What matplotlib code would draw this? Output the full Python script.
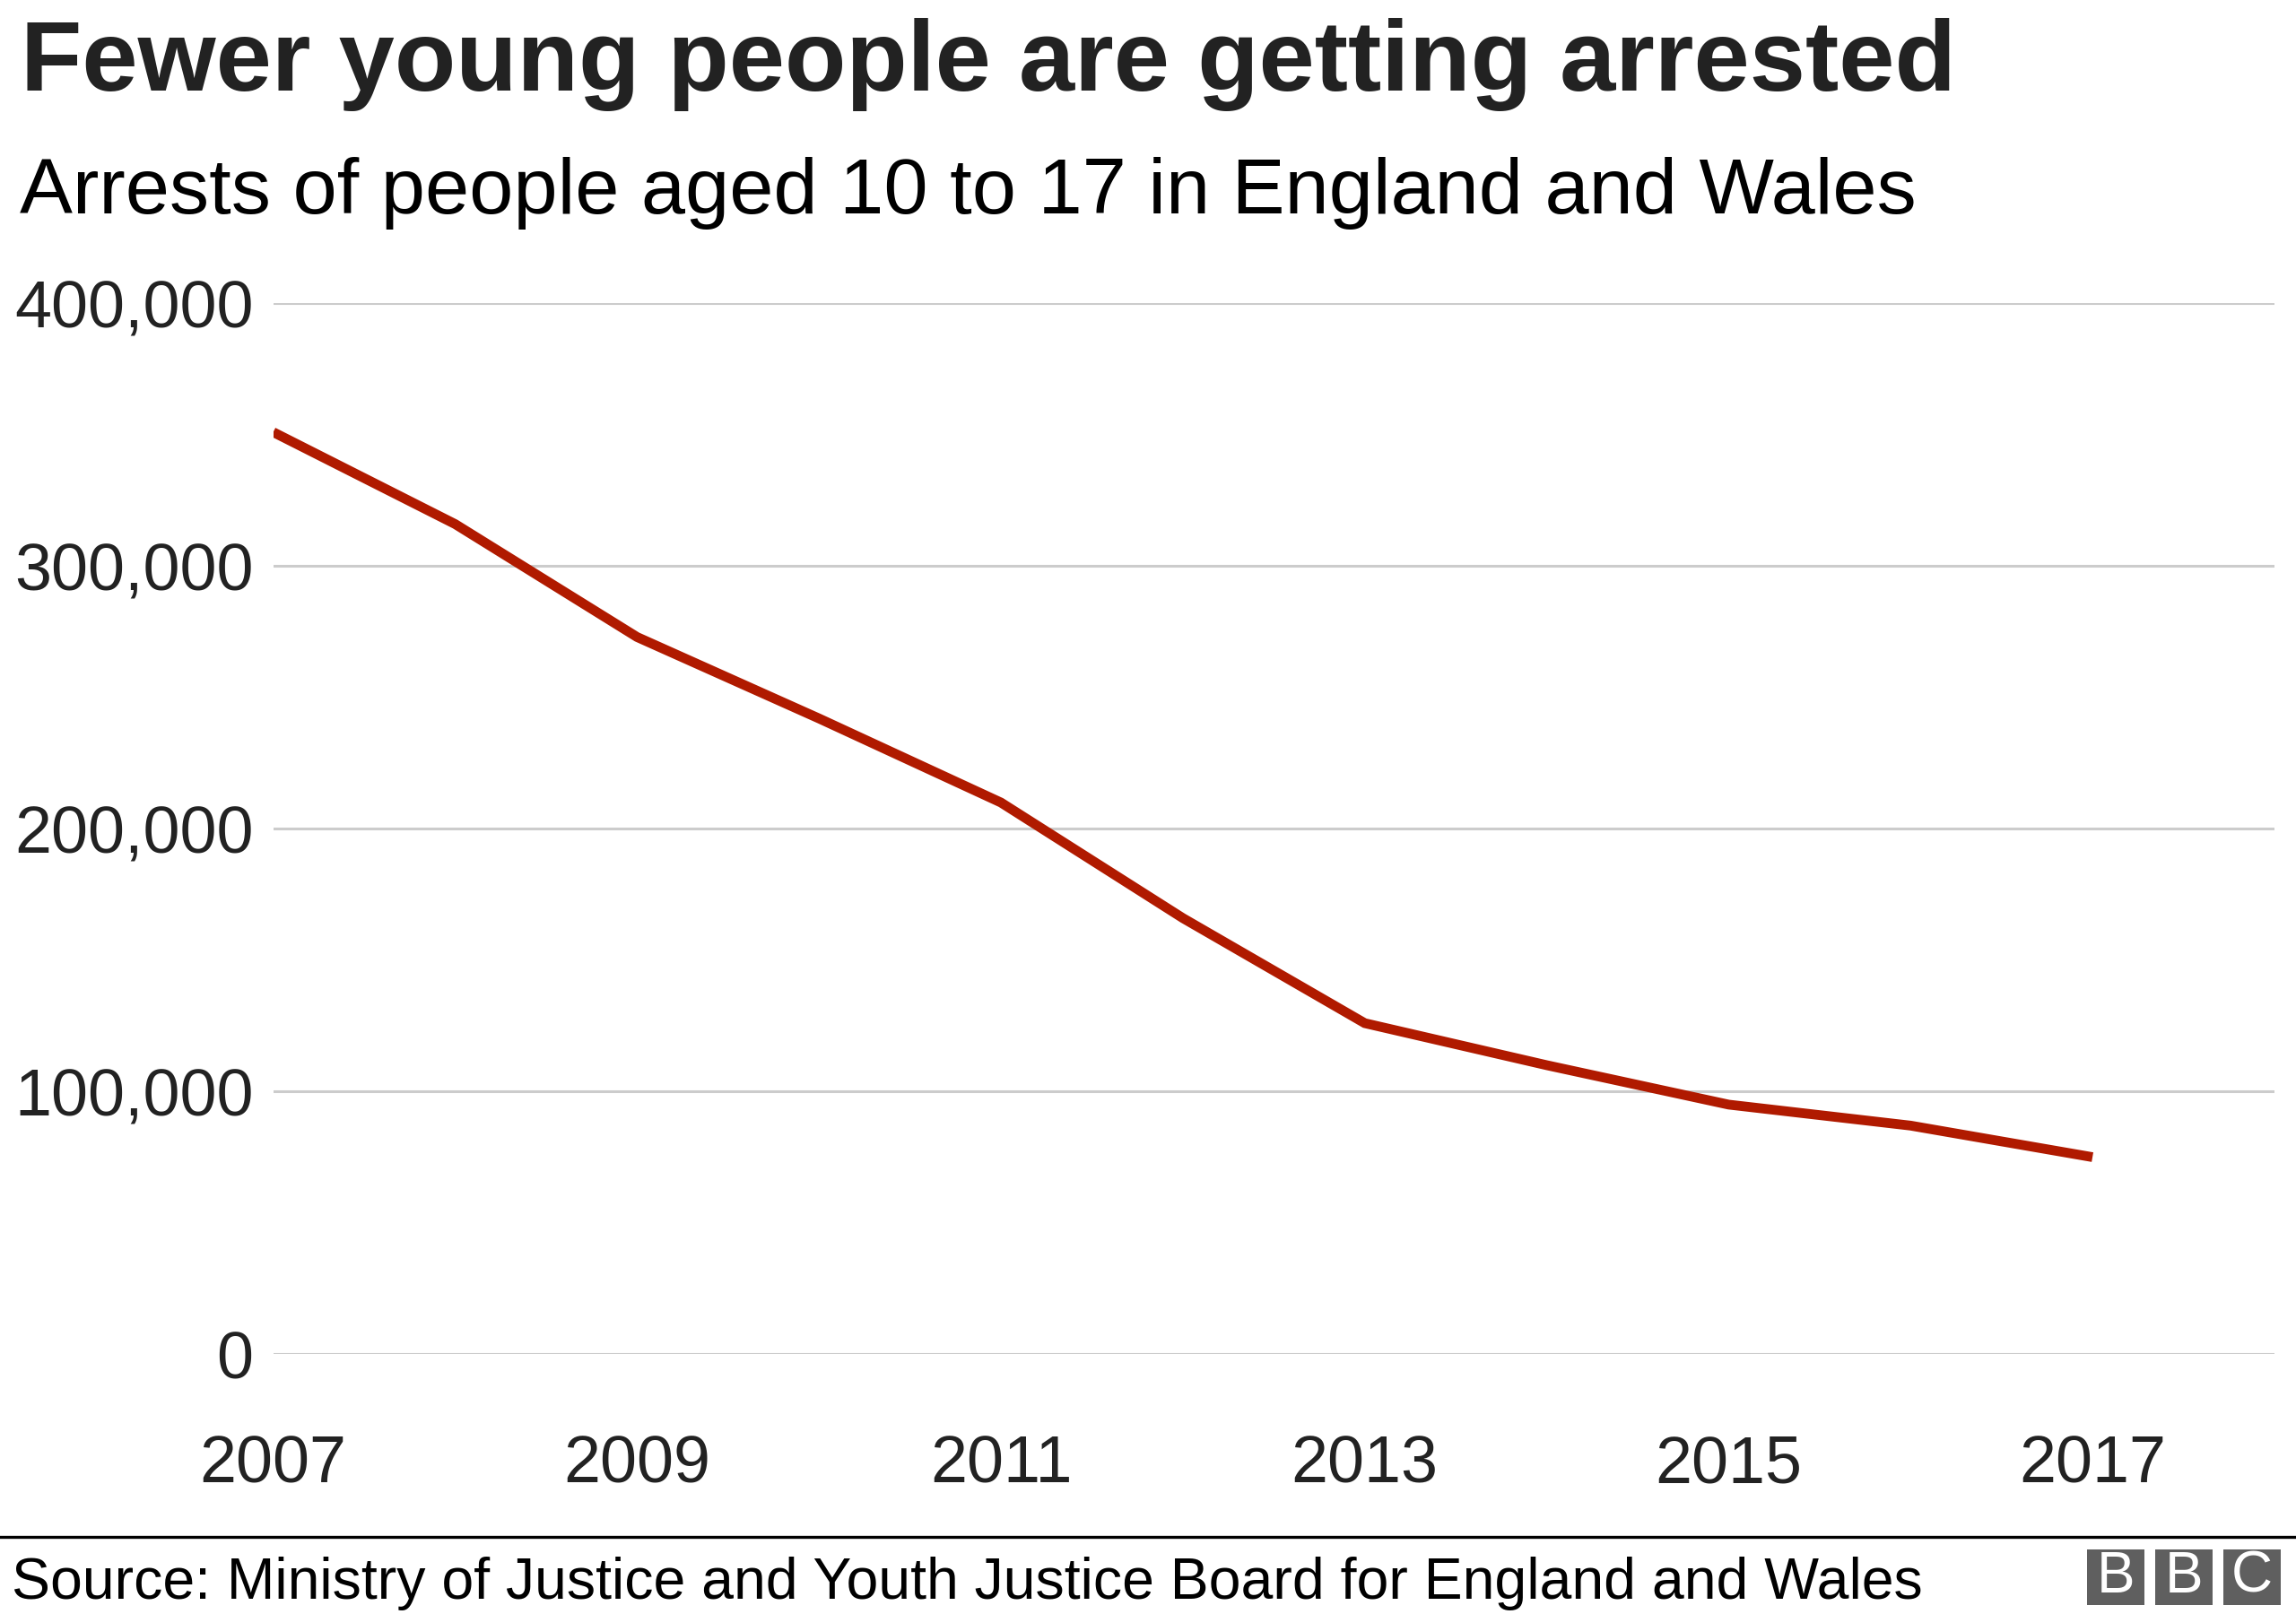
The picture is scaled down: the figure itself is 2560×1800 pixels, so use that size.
import matplotlib
matplotlib.use("Agg")
import matplotlib.pyplot as plt
from matplotlib.patches import Rectangle
from matplotlib.lines import Line2D

years = [2007, 2008, 2009, 2010, 2011, 2012, 2013, 2014, 2015, 2016, 2017]
arrests = [351000, 316000, 273000, 242000, 210000, 166000, 126000, 110000, 95000, 87000, 75000]

x_ticks = [2007, 2009, 2011, 2013, 2015, 2017]
y_ticks = [0, 100000, 200000, 300000, 400000]

title = "Fewer young people are getting arrested"
subtitle = "Arrests of people aged 10 to 17 in England and Wales"
source = "Source: Ministry of Justice and Youth Justice Board for England and Wales"

plt.rcParams['font.family'] = ['Liberation Sans', 'DejaVu Sans']

fig = plt.figure(figsize=(12.8, 9), dpi=200)
ax = fig.add_axes([0.119, 0.161, 0.8716, 0.651])

ax.plot(years, arrests, color='#b01a00', lw=3.9, solid_capstyle='butt',
        solid_joinstyle='miter', zorder=3)

ax.set_xlim(2007, 2018.0)
ax.set_ylim(0, 400000)
ax.set_xticks(x_ticks)
ax.set_xticklabels([str(y) for y in x_ticks])
ax.set_yticks(y_ticks)
ax.set_yticklabels(['{:,}'.format(v) for v in y_ticks])
ax.grid(axis='y', color='#cccccc', lw=1.1)
ax.set_axisbelow(True)
for s in ax.spines.values():
    s.set_visible(False)
ax.tick_params(axis='both', length=0, labelsize=26.5, labelcolor='#222222')
ax.tick_params(axis='y', pad=8)
ax.tick_params(axis='x', pad=32)
for lab in ax.get_yticklabels():
    lab.set_verticalalignment('center_baseline')

fig.text(0.009, 0.944, title, fontsize=40.3, fontweight='bold', color='#222222')
fig.text(0.0085, 0.868, subtitle, fontsize=31.8, color='black')

# bottom rule + source
fig.add_artist(Line2D([0, 1], [0.0478, 0.0478], color='black', lw=1.2))
fig.text(0.005, 0.0095, source, fontsize=23.2, color='black')

# BBC blocks
W, H = 2560.0, 1800.0
for i, letter in enumerate("BBC"):
    x0 = 2327 + i * 76
    fig.add_artist(Rectangle((x0 / W, 1 - 1790 / H), 64 / W, 62 / H,
                             transform=fig.transFigure, color='#5f5f5f', lw=0))
    fig.text((x0 + 32) / W, 1 - 1759 / H, letter, fontsize=23,
             color='white', ha='center', va='center')

fig.savefig("out.png", dpi=200, facecolor='white')
